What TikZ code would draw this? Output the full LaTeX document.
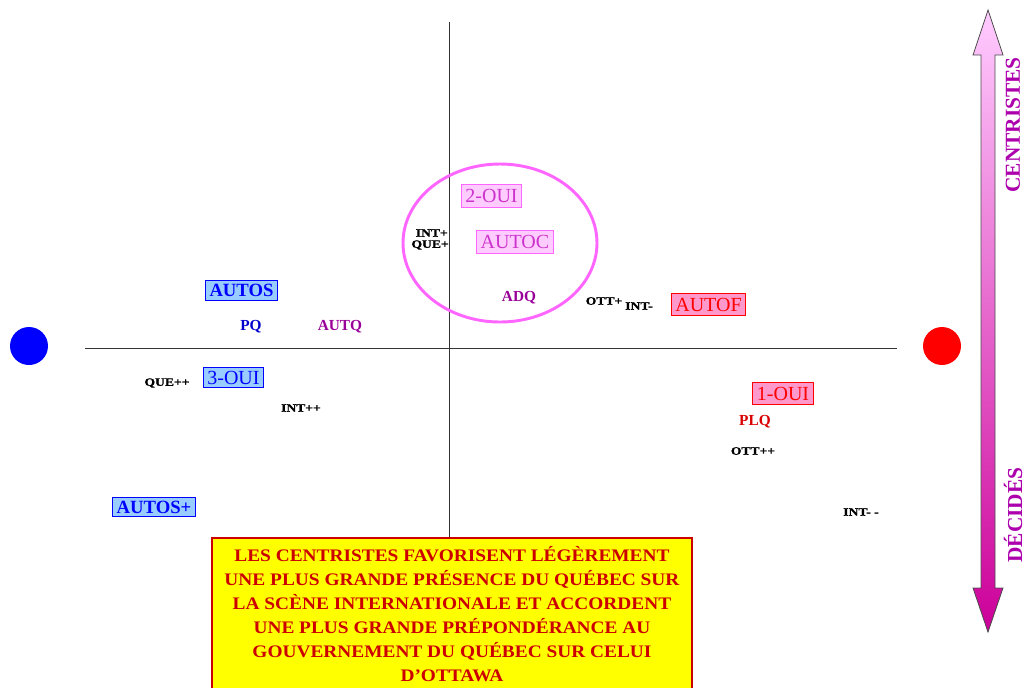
\documentclass[tikz,border=0pt]{standalone}
\usepackage{fontspec}
\setmainfont{Liberation Serif}
\newfontfamily\widefont[FakeStretch=1.1]{Liberation Serif}
\newfontfamily\smallfont[FakeStretch=1.2,FakeBold=1.2]{Liberation Serif Bold}
\usetikzlibrary{shapes.geometric}
\definecolor{mag}{HTML}{CC33CC}
\definecolor{magfill}{HTML}{FFCCFF}
\definecolor{magline}{HTML}{FF66FF}
\definecolor{bluefill}{HTML}{99CCFF}
\definecolor{pinkfill}{HTML}{FF99CC}
\definecolor{purp}{HTML}{990099}
\definecolor{darkred}{HTML}{CC0000}
\definecolor{yel}{HTML}{FFFF00}
\definecolor{arrtop}{HTML}{FFCCFF}
\definecolor{arrbot}{HTML}{CC0099}
\tikzset{
  lbl/.style={font=\fontsize{15}{15}\selectfont, inner xsep=3.2pt, inner ysep=3.4pt, line width=0.8pt, anchor=center},
  magbox/.style={lbl, fill=magfill, draw=magline, text=mag},
  bluebox/.style={lbl, fill=bluefill, draw=blue, text=blue},
  bluebold/.style={bluebox, font=\fontsize{14}{14}\selectfont\bfseries, inner ysep=2.6pt},
  redbox/.style={lbl, fill=pinkfill, draw=red, text=red},
  small/.style={font=\fontsize{8.5}{8.5}\smallfont, inner sep=0pt, text=black},
  party/.style={font=\fontsize{11.5}{11.5}\selectfont\bfseries, inner sep=0pt},
  axis/.style={draw=black!80, line width=0.6pt},
}
\begin{document}
\begin{tikzpicture}[x=0.75pt,y=-0.75pt]
\useasboundingbox (0,0) rectangle (1029,687);
% axes
\coordinate (xl) at (85,348);
\coordinate (xr) at (897,348);
\coordinate (yt) at (449,22);
\coordinate (yb) at (449,540);
\draw[axis] (xl) -- (xr);
\draw[axis] (yt) -- (yb);
% circles
\fill[blue] (29,346) circle (19);
\fill[red] (942,346) circle (19);
% ellipse
\draw[magline, line width=2.2pt] (500,243) ellipse (97 and 79);
% boxes
\node[magbox] (oui2) at (491.5,196) {2-OUI};
\node[magbox] (autoc) at (515,242) {AUTOC};
\node[redbox] (autof) at (708.5,304.5) {AUTOF};
\node[redbox] (oui1) at (783,393.5) {1-OUI};
\node[bluebold] (autos) at (241.5,290.5) {AUTOS};
\node[bluebox, inner ysep=2.8pt] (oui3) at (233.5,377.5) {3-OUI};
\node[bluebold] (autosp) at (154,507) {AUTOS+};
% small labels
\node[small, anchor=east] (intp) at (448,233) {INT+};
\node[small, anchor=east] (quep) at (449,245) {QUE+};
\node[small] (ottp) at (604,301) {OTT+};
\node[small] (intm) at (639,306) {INT-};
\node[small] (quepp) at (167,383) {QUE++};
\node[small] (intpp) at (301,408) {INT++};
\node[small] (ottpp) at (753,451) {OTT++};
\node[small] (intmm) at (861,512) {INT- -};
% parties
\node[party, text=purp] (adq) at (519,298) {ADQ};
\node[party, text=blue!80!black] (pq) at (251,327) {PQ};
\node[party, text=purp] (autq) at (340,327) {AUTQ};
\node[party, text=red!85!black] (plq) at (755,422) {PLQ};
% yellow box
\path[fill=yel, draw=red!80!black, line width=0.8pt] (212,538) rectangle (692,690);
\node[text=darkred, font=\fontsize{13.2}{18}\widefont\bfseries, align=center, anchor=north, inner sep=0pt] (note) at (452,546)
 {LES CENTRISTES FAVORISENT LÉGÈREMENT\\UNE PLUS GRANDE PRÉSENCE DU QUÉBEC SUR\\LA SCÈNE INTERNATIONALE ET ACCORDENT\\UNE PLUS GRANDE PRÉPONDÉRANCE AU\\GOUVERNEMENT DU QUÉBEC SUR CELUI\\D’OTTAWA};
% right double arrow
\path[draw=black!70, line width=0.6pt, top color=arrtop, bottom color=arrbot]
 (988,10) -- (1003,55) -- (995,55) -- (995,588) -- (1003,588) -- (988,632)
 -- (973,588) -- (981,588) -- (981,55) -- (973,55) -- cycle;
\node[rotate=90, text=purp!80!magenta, font=\fontsize{16}{16}\selectfont\bfseries, inner sep=0pt] (centr) at (1013,125) {CENTRISTES};
\node[rotate=90, text=purp!80!magenta, font=\fontsize{16}{16}\selectfont\bfseries, inner sep=0pt] (decid) at (1013,515) {DÉCIDÉS};
\end{tikzpicture}
\end{document}
